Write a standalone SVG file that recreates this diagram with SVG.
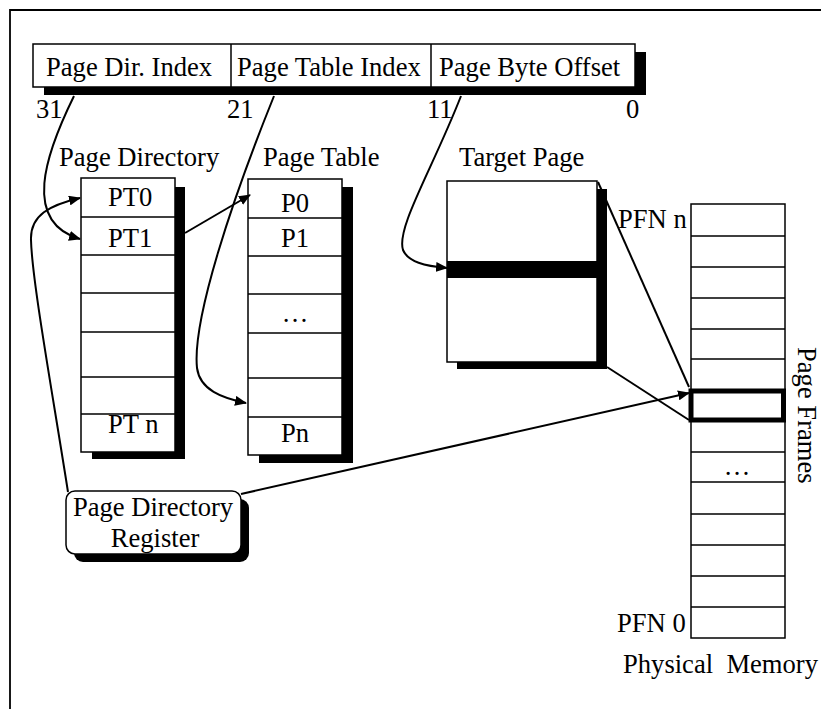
<svg xmlns="http://www.w3.org/2000/svg" width="821" height="709" viewBox="0 0 821 709">
<style>
text{font-family:"Liberation Serif","Times New Roman",serif;font-size:26.6px;fill:#000}
.box{fill:#fff;stroke:#000;stroke-width:1.5}
.row{stroke:#000;stroke-width:1.5;fill:none}
.sh{fill:#000}
.con{fill:none;stroke:#000;stroke-width:2}
.mid{text-anchor:middle}
</style>
<defs>
<marker id="ah" markerWidth="12" markerHeight="10" refX="11" refY="5" orient="auto" markerUnits="userSpaceOnUse"><path d="M0,0 L12,5 L0,10 z" fill="#000"/></marker>
</defs>
<rect width="821" height="709" fill="#fff"/>
<path d="M10,709 L10,10 L821,10" fill="none" stroke="#000" stroke-width="1.8"/>

<g id="address">
<rect class="sh" x="635" y="52" width="11" height="43"/>
<rect class="sh" x="44" y="87" width="602" height="8"/>
<rect class="box" x="33" y="44" width="602" height="43"/>
<line class="row" x1="231" y1="44" x2="231" y2="87"/>
<line class="row" x1="431" y1="44" x2="431" y2="87"/>
<text x="46" y="76">Page Dir. Index</text>
<text x="237" y="76">Page Table Index</text>
<text x="439" y="76">Page Byte Offset</text>
<text x="36" y="118">31</text>
<text x="227" y="118">21</text>
<text x="427" y="118">11</text>
<text x="626" y="118">0</text>
</g>

<g id="page-directory">
<text x="59" y="166">Page Directory</text>
<rect class="sh" x="175" y="187" width="10" height="272"/>
<rect class="sh" x="92" y="452" width="93" height="7"/>
<rect class="box" x="81" y="178" width="94" height="274"/>
<path class="row" d="M81,217H175M81,255H175M81,293H175M81,332H175M81,377H175M81,414H175"/>
<text x="108" y="206">PT0</text>
<text x="108" y="247">PT1</text>
<text x="108" y="433">PT n</text>
</g>

<g id="page-table">
<text x="263" y="166">Page Table</text>
<rect class="sh" x="342" y="187" width="11" height="276"/>
<rect class="sh" x="259" y="455" width="94" height="8"/>
<rect class="box" x="248" y="179" width="94" height="276"/>
<path class="row" d="M248,218H342M248,256H342M248,294H342M248,333H342M248,378H342M248,417H342"/>
<text class="mid" x="295" y="212">P0</text>
<text class="mid" x="295" y="247">P1</text>
<text class="mid" x="295" y="322">…</text>
<text class="mid" x="295" y="442">Pn</text>
</g>

<g id="target-page">
<text x="459" y="166">Target Page</text>
<rect class="sh" x="597" y="189" width="10" height="180"/>
<rect class="sh" x="457" y="362" width="150" height="7"/>
<rect class="box" x="447" y="181" width="150" height="181"/>
<rect class="sh" x="447" y="261" width="160" height="17"/>
</g>

<g id="physical-memory">
<rect class="box" x="691" y="204" width="94" height="434"/>
<path class="row" d="M691,236H785M691,267H785M691,298H785M691,329H785M691,359H785M691,452H785M691,482H785M691,514H785M691,545H785M691,576H785M691,607H785"/>
<rect x="691" y="391" width="92.5" height="29" fill="#fff" stroke="#000" stroke-width="5"/>
<text x="618" y="228">PFN n</text>
<text x="617" y="632">PFN 0</text>
<text class="mid" x="737" y="475">…</text>
<text transform="translate(798,347) rotate(90)">Page Frames</text>
<text x="623" y="673" xml:space="preserve">Physical  Memory</text>
</g>

<g id="pdr">
<rect class="sh" x="74" y="499" width="175" height="63" rx="9"/>
<rect class="box" x="66" y="491" width="175" height="63" rx="9"/>
<text class="mid" x="153" y="516">Page Directory</text>
<text class="mid" x="155" y="547">Register</text>
</g>

<g id="connectors">
<path class="con" marker-end="url(#ah)" d="M74,96 C45,155 22,222 80,239"/>
<path class="con" marker-end="url(#ah)" d="M68,492 C52,390 32,280 31,240 C30,215 50,205 80,198"/>
<path class="con" marker-end="url(#ah)" d="M185,233 L250,195"/>
<path class="con" marker-end="url(#ah)" d="M274,96 C232,200 192,320 197,368 C200,390 222,398 246,403"/>
<path class="con" marker-end="url(#ah)" d="M461,96 C432,170 396,228 403,250 C408,262 425,266 447,268"/>
<path class="con" marker-end="url(#ah)" d="M241,494 L689,393"/>
<path class="con" d="M598,182 L689,387"/>
<path class="con" d="M607,367 L689,420"/>
</g>
</svg>
